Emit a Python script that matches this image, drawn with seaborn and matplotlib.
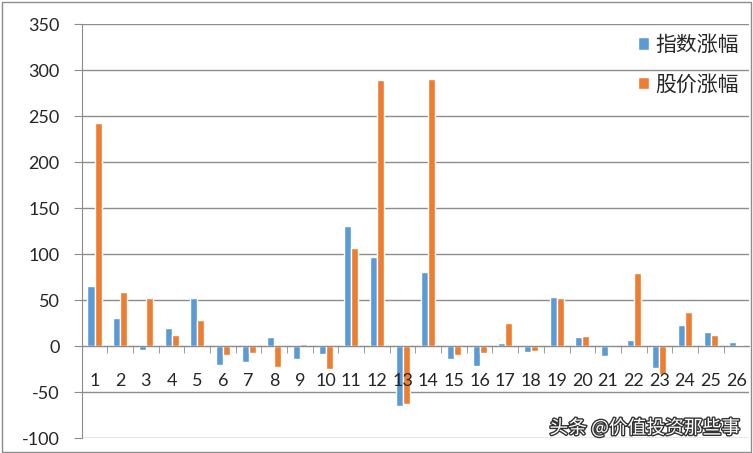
import numpy as np
import pandas as pd
import seaborn as sns
import matplotlib.pyplot as plt
import matplotlib.patheffects as pe
from matplotlib.patches import Rectangle

# data
periods = [str(i) for i in range(1, 27)]
index_change = [65, 31, -4, 20, 52, -20, -17, 10, -14, -8, 131, 97, -65,
                81, -14, -21, 4, -6, 54, 10, -11, 7, -24, 23, 15, 5]
price_change = [243, 59, 52, 12, 29, -10, -7, -22, 3, -25, 107, 289, -63,
                291, -9, -7, 25, -5, 52, 11, 0, 80, -30, 37, 12, 1]
series_names = ['指数涨幅', '股价涨幅']

df = pd.DataFrame({'period': periods * 2,
                   'value': index_change + price_change,
                   'series': [series_names[0]] * 26 + [series_names[1]] * 26})

sns.set_style('white')
plt.rcParams['font.family'] = ['Lato', 'Noto Sans CJK SC', 'DejaVu Sans']
plt.rcParams['axes.unicode_minus'] = False

fig = plt.figure(figsize=(7.53, 4.53), dpi=100)
ax = fig.add_axes([0.1085, 0.0325, 0.8865, 0.914])

sns.barplot(data=df, x='period', y='value', hue='series',
            palette=['#5B9BD5', '#ED7D31'], width=0.55, ax=ax,
            saturation=1, legend=True)

ax.set_ylim(-100, 350)
ax.set_xlim(-0.5, 25.5)
ax.set_yticks(range(-100, 351, 50))
ax.set_xlabel('')
ax.set_ylabel('')

grid_color = '#8c8c8c'
ax.yaxis.grid(True, color=grid_color, linewidth=1)
ax.set_axisbelow(True)
# category labels sit on top of the bars, grid stays behind
ax.xaxis.set_zorder(3)
for s in ['top', 'right']:
    ax.spines[s].set_visible(False)
ax.spines['left'].set_color(grid_color)
ax.spines['bottom'].set_color(grid_color)
ax.spines['bottom'].set_position(('data', 0))

ax.tick_params(axis='y', length=6, color=grid_color, labelsize=13, pad=10, left=True)
ax.tick_params(axis='x', which='major', length=0, labelsize=13, pad=19)
ax.set_xticks(np.arange(0.5, 25, 1), minor=True)
ax.tick_params(axis='x', which='minor', length=5, color=grid_color, bottom=True,
               direction='out')

handles, labels = ax.get_legend_handles_labels()
ax.legend(handles, labels, loc='upper right', bbox_to_anchor=(1.013, 1.022),
          frameon=False, handlelength=0.55, handleheight=0.55,
          handletextpad=0.3, labelspacing=0.85,
          prop={'family': ['Noto Sans CJK SC'], 'size': 15, 'weight': 'light'})

fig.text(0.983, 0.055, '头条 @价值投资那些事', ha='right', va='center',
         fontsize=13.5, color='white', family=['Noto Sans CJK SC', 'DejaVu Sans'],
         path_effects=[pe.withStroke(linewidth=2, foreground='#333333')])

fig.patches.append(Rectangle((0.002, 0.003), 0.995, 0.993, transform=fig.transFigure,
                             fill=False, edgecolor=grid_color, linewidth=1))

fig.savefig('out.png', dpi=100)
